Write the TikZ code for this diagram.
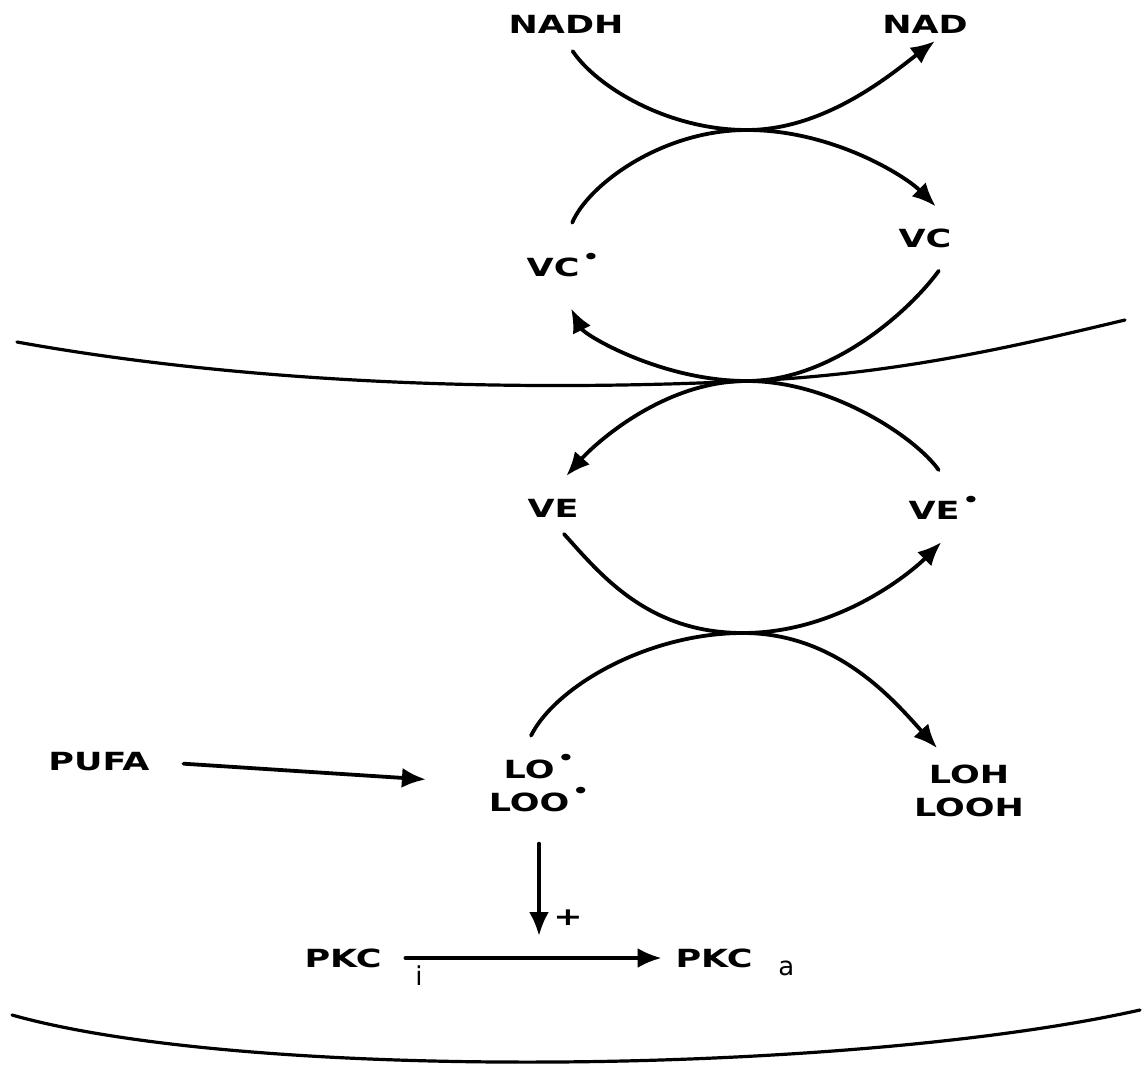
\documentclass[tikz,border=0pt]{standalone}
\usepackage{fontspec}
\usetikzlibrary{arrows.meta}
\newfontfamily\lblfont[FakeStretch=1.4]{DejaVu Sans}
\newfontfamily\subfont{DejaVu Sans}
\newcommand{\rad}{\hspace{1.5pt}\raisebox{1.0ex}{\scalebox{0.75}{\textbullet}}}
\newcommand{\subsc}[3]{\rlap{\smash{\kern#1\raisebox{#2}{\subfont\mdseries\fontsize{13}{13}\selectfont #3}}}}

\begin{document}
\begin{tikzpicture}[x=0.5pt, y=-0.5pt,
    every node/.style={font=\lblfont\bfseries\fontsize{12.5}{16.5}\selectfont, inner sep=3.8pt}]
	\tikzset{arc/.style={line width=1.9pt, line cap=round, -{Latex[length=12pt,width=10pt]}},
	         membrane/.style={line width=1.6pt, line cap=round}}
	\useasboundingbox (0,0) rectangle (1148,1066);
	% labels
	\node (nadh) at (566,24)  {NADH};
	\node (nad)  at (925,24)  {NAD};
	\node (vcr)  at (563,265) {VC\rad};
	\node (vc)   at (925,238) {VC};
	\node (ve)   at (553,508) {VE};
	\node (ver)  at (944,508) {VE\rad};
	\node[align=center] (lo)  at (539,783) {LO\rad\\LOO\rad};
	\node[align=center] (loh) at (969,791) {LOH\\LOOH};
	\node (pufa) at (99,762)  {PUFA};
	\node (pkci) at (343,958) {PKC\subsc{17pt}{-9pt}{i}};
	\node (pkca) at (714,958) {PKC\subsc{13pt}{-4pt}{a}};
	\node (plus) at (568,918) {+};
	% contact points of the arcs
	\coordinate (t1) at (747,130);
	\coordinate (t2) at (747,381);
	\coordinate (t3) at (743,633);
	% membranes
	\draw[membrane] (17,342) .. controls (200,375) and (450,395) .. (748,381)
	  .. controls (900,374) and (1020,345) .. (1125,320);
	\draw[membrane] (12,1015) .. controls (250,1082) and (850,1075) .. (1140,1010);
	% redox arcs
	\draw[arc, shorten <=6pt] (nadh.south) .. controls +(30,45) and +(-80,0) .. (t1)
	  .. controls +(80,0) and +(-40,30) .. (nad.-60);
	\draw[arc, shorten <=12pt, shorten >=10pt] (vcr.north) .. controls +(25,-60) and +(-85,0) .. (t1)
	  .. controls +(85,0) and +(-45,-45) .. (vc.35);
	\draw[arc, shorten <=9.5pt, shorten >=13pt] (vc.-35) .. controls +(-40,55) and +(85,0) .. (t2)
	  .. controls +(-85,0) and +(25,50) .. (vcr.-100);
	\draw[arc, shorten <=11pt, shorten >=10pt] (ver.70) .. controls +(-35,-50) and +(85,0) .. (t2)
	  .. controls +(-85,0) and +(40,-45) .. (ve.north);
	\draw[arc, shorten <=6pt, shorten >=10pt] (ve.-80) .. controls +(45,50) and +(-95,0) .. (t3)
	  .. controls +(95,0) and +(-45,45) .. (ver.-60);
	\draw[arc, shorten <=6pt, shorten >=6pt] (lo.110) .. controls +(30,-60) and +(-95,0) .. (t3)
	  .. controls +(95,0) and +(-50,-55) .. (loh.125);
	% straight arrows
	\draw[arc, shorten <=13pt, shorten >=27.5pt] (pufa.east) -- (lo.west);
	\draw[arc, shorten <=12pt, shorten >=11pt] (lo.south) -- (lo.south |- pkci);
	\draw[arc, shorten <=8pt, shorten >=3pt] (pkci) -- (pkca);
\end{tikzpicture}
\end{document}
